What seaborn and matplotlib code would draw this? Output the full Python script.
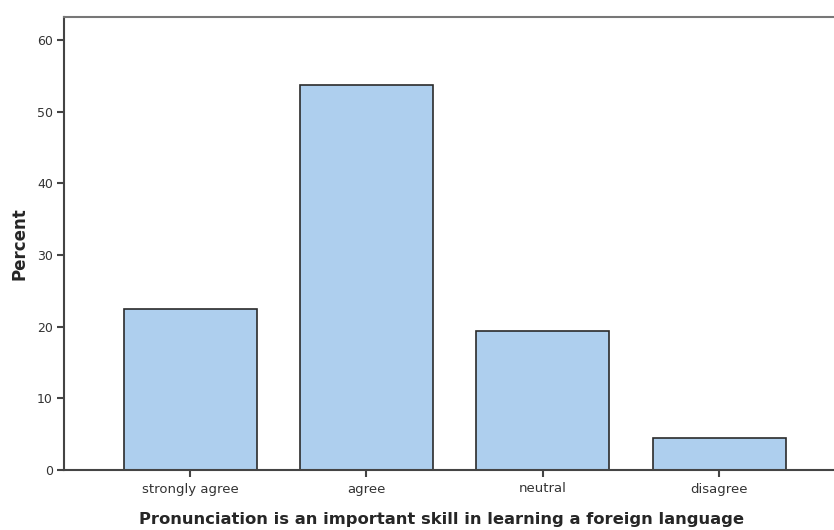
import pandas as pd
import matplotlib
matplotlib.use('Agg')
import matplotlib.pyplot as plt
import seaborn as sns

categories = ['strongly agree', 'agree', 'neutral', 'disagree']
percent = [22.4, 53.7, 19.4, 4.5]
y_ticks = [0, 10, 20, 30, 40, 50, 60]

df = pd.DataFrame({'answer': categories, 'Percent': percent})

sns.set_style('white')
plt.rcParams['font.family'] = ['DejaVu Sans']

fig = plt.figure(figsize=(8.34, 5.30), dpi=100)
ax = fig.add_axes([64 / 834, 60 / 530, 1 - 64 / 834, (470 - 17) / 530])

sns.barplot(data=df, x='answer', y='Percent', order=categories, color='#aecfee',
            saturation=1, width=0.754, edgecolor='#2b2b2b', linewidth=1.2, ax=ax)

ax.set_xlim(-0.715, 3.652)
ax.set_ylim(0, 63.2)
ax.set_yticks(y_ticks)
ax.set_yticklabels([str(t) for t in y_ticks])

for side in ['left', 'bottom', 'top']:
    ax.spines[side].set_visible(True)
    ax.spines[side].set_color('#444444')
    ax.spines[side].set_linewidth(1.5)
ax.spines['right'].set_visible(False)
ax.spines['top'].set_color('#777777')

ax.tick_params(axis='both', which='major', direction='out', length=5, width=1.5,
               color='#444444', labelsize=9, labelcolor='#333333', pad=3,
               left=True, bottom=True)
ax.tick_params(axis='x', labelsize=9.5, pad=4)

ax.set_xlabel('Pronunciation is an important skill in learning a foreign language',
              fontsize=11.8, fontweight='bold', labelpad=12)
ax.xaxis.label.set_x(0.49)
ax.set_ylabel('Percent', fontsize=12, fontweight='bold', labelpad=6)

fig.savefig('out.png', dpi=100)
